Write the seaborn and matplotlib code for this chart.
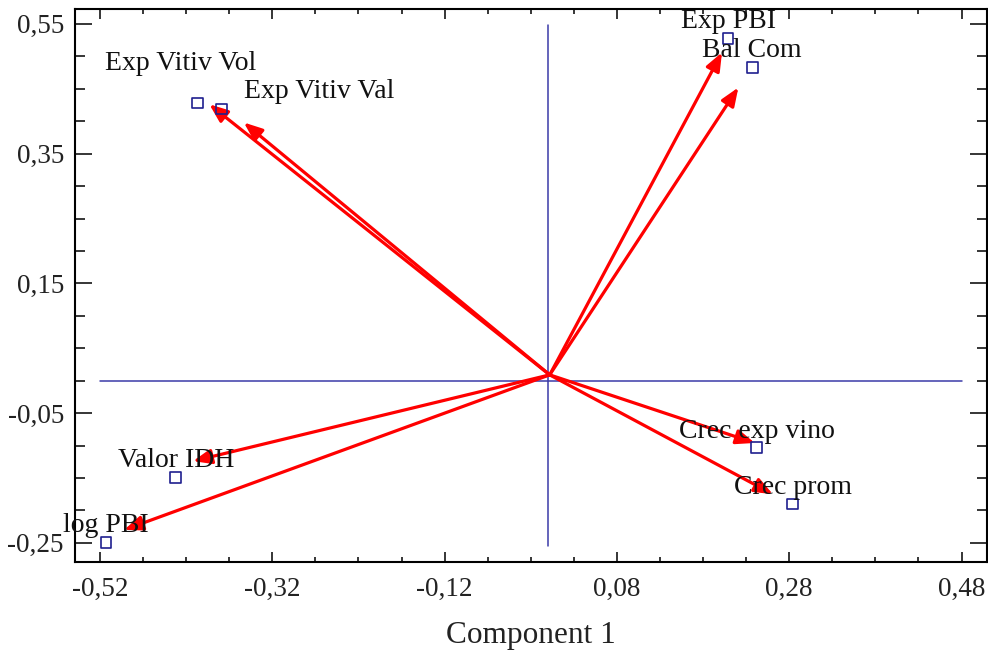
import matplotlib
matplotlib.use("Agg")
import matplotlib.pyplot as plt
import numpy as np
import pandas as pd
import seaborn as sns
from matplotlib.ticker import FuncFormatter, FixedLocator

# ---- data ----
variables = ["Exp Vitiv Vol", "Exp Vitiv Val", "Exp PBI", "Bal Com",
             "Valor IDH", "log PBI", "Crec exp vino", "Crec prom"]
component1 = [-0.407, -0.379, 0.209, 0.237, -0.432, -0.513, 0.242, 0.284]
component2 = [0.428, 0.419, 0.528, 0.483, -0.149, -0.249, -0.103, -0.190]
arrow_x = [-0.393, -0.353, 0.202, 0.221, -0.412, -0.492, 0.240, 0.261]
arrow_y = [0.426, 0.398, 0.506, 0.452, -0.124, -0.230, -0.096, -0.175]
origin_x, origin_y = 0.002, 0.009
x_ticks = [-0.52, -0.32, -0.12, 0.08, 0.28, 0.48]
y_ticks = [-0.25, -0.05, 0.15, 0.35, 0.55]
x_label = "Component 1"

df = pd.DataFrame({"var": variables, "c1": component1, "c2": component2,
                   "ax_": arrow_x, "ay_": arrow_y})

# label offsets in pixels (layout only)
label_offsets = {"Exp Vitiv Vol": (-17, 40), "Exp Vitiv Val": (98, 17)}
default_offset = (0, 16.5)

sns.set_theme(style="white")
plt.rcParams["font.family"] = ["Liberation Serif", "DejaVu Serif"]

fig = plt.figure(figsize=(9.88, 6.51), dpi=100)
ax = fig.add_axes([0.0759, 0.1372, 0.9231, 0.8490])

xmin, xmax = -0.549, 0.5096
ymin, ymax = -0.279, 0.573
ax.set_xlim(xmin, xmax)
ax.set_ylim(ymin, ymax)

line_col = "#3a3aa8"
ax.plot([0, 0], [-0.255, 0.548], color=line_col, lw=1.1, zorder=1)
ax.plot([-0.52, 0.48], [0, 0], color=line_col, lw=1.1, zorder=1)

for _, r in df.iterrows():
    ax.annotate("", xy=(r["ax_"], r["ay_"]), xytext=(origin_x, origin_y),
                arrowprops=dict(arrowstyle="-|>,head_length=0.55,head_width=0.22",
                                color="#ff0000", lw=2.3,
                                mutation_scale=20, shrinkA=0, shrinkB=0),
                zorder=3)

sns.scatterplot(data=df, x="c1", y="c2", marker="s", s=60,
                facecolors="none", edgecolor="#1f1f8f", linewidth=1.2,
                ax=ax, zorder=4)

for _, r in df.iterrows():
    off = label_offsets.get(r["var"], default_offset)
    ax.annotate(r["var"], xy=(r["c1"], r["c2"]), xytext=off,
                textcoords="offset pixels", ha="center", va="center",
                fontsize=20, color="#111111", zorder=5)

fmt = FuncFormatter(lambda v, p: f"{v:.2f}".replace(".", ","))
ax.xaxis.set_major_locator(FixedLocator(x_ticks))
ax.yaxis.set_major_locator(FixedLocator(y_ticks))
ax.xaxis.set_minor_locator(FixedLocator(np.arange(-0.52, 0.50, 0.05)))
ax.yaxis.set_minor_locator(FixedLocator(np.arange(-0.25, 0.57, 0.05)))
ax.xaxis.set_major_formatter(fmt)
ax.yaxis.set_major_formatter(fmt)

ax.tick_params(axis="x", which="major", direction="in", length=7.2, width=1.1,
               top=True, bottom=True, labelsize=19.5, pad=11, color="black")
ax.tick_params(axis="x", which="minor", direction="in", length=3.6, width=1.1,
               top=True, bottom=True, color="black")
ax.tick_params(axis="y", which="major", direction="in", length=12.5, width=1.1,
               left=True, right=True, labelsize=19.5, pad=8, color="black")
ax.tick_params(axis="y", which="minor", direction="in", length=7.2, width=1.1,
               left=True, right=True, color="black")
for lab in ax.get_xticklabels() + ax.get_yticklabels():
    lab.set_color("#222222")

for s in ax.spines.values():
    s.set_color("black")
    s.set_linewidth(1.5)

ax.set_xlabel(x_label, fontsize=22.5, labelpad=14, color="#222222")
ax.set_ylabel("")

fig.savefig("out.png", dpi=100)
